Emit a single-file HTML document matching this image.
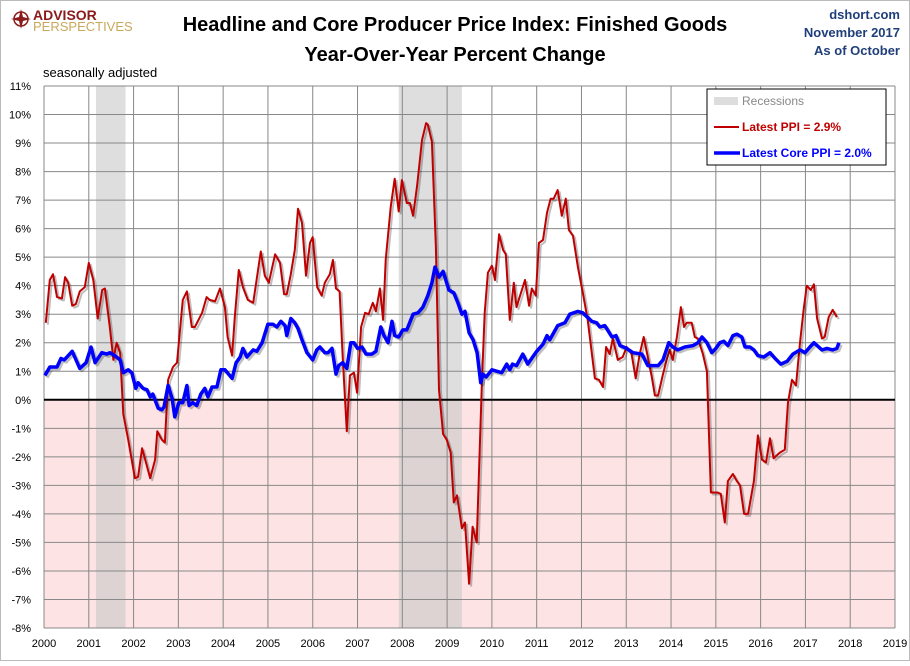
<!DOCTYPE html>
<html><head><meta charset="utf-8"><style>
body{margin:0;background:#fff;width:910px;height:661px;overflow:hidden;font-family:"Liberation Sans",sans-serif}
</style></head><body>
<svg id="chart" width="910" height="661" xmlns="http://www.w3.org/2000/svg" font-family="Liberation Sans, sans-serif">
<rect x="0.5" y="0.5" width="909" height="660" fill="#fff" stroke="#bbb"/>
<g>
<circle cx="21" cy="19" r="7" fill="none" stroke="#8b1a1a" stroke-width="1.5"/>
<path d="M21 9 L23 17 L31 19 L23 21 L21 29 L19 21 L11 19 L19 17 Z" fill="#8b1a1a"/>
<text x="33" y="20" font-size="14" font-weight="bold" fill="#8b1a1a">ADVISOR</text>
<text x="33" y="31" font-size="13" fill="#c9a85a">PERSPECTIVES</text>
</g>
<text x="455" y="31" text-anchor="middle" font-size="20" font-weight="bold" fill="#000">Headline and Core Producer Price Index: Finished Goods</text>
<text x="455" y="61" text-anchor="middle" font-size="20" font-weight="bold" fill="#000">Year-Over-Year Percent Change</text>
<text x="900" y="19" text-anchor="end" font-size="13" font-weight="bold" fill="#1f3f7a">dshort.com</text>
<text x="900" y="37" text-anchor="end" font-size="13" font-weight="bold" fill="#1f3f7a">November 2017</text>
<text x="900" y="55" text-anchor="end" font-size="13" font-weight="bold" fill="#1f3f7a">As of October</text>
<text x="43" y="77" font-size="13" fill="#000">seasonally adjusted</text>
<g id="plot"></g>
</svg>
<script>
const yearTicks=[2000,2001,2002,2003,2004,2005,2006,2007,2008,2009,2010,2011,2012,2013,2014,2015,2016,2017,2018,2019];
const pctTicks=[-8,-7,-6,-5,-4,-3,-2,-1,0,1,2,3,4,5,6,7,8,9,10,11];
const recessionStarts=[2001.16,2007.92];
const recessionEnds=[2001.82,2009.33];
const ppiDates=[2000.04,2000.13,2000.2,2000.29,2000.4,2000.47,2000.54,2000.63,2000.71,2000.8,2000.91,2001.0,2001.1,2001.2,2001.3,2001.36,2001.47,2001.55,2001.62,2001.7,2001.77,2001.88,2002.03,2002.1,2002.19,2002.37,2002.48,2002.53,2002.63,2002.7,2002.77,2002.88,2002.97,2003.1,2003.19,2003.3,2003.37,2003.53,2003.63,2003.7,2003.82,2003.93,2004.04,2004.1,2004.2,2004.26,2004.35,2004.44,2004.55,2004.67,2004.84,2004.93,2005.02,2005.16,2005.27,2005.36,2005.42,2005.51,2005.6,2005.67,2005.76,2005.85,2005.94,2006.0,2006.1,2006.2,2006.27,2006.38,2006.45,2006.52,2006.6,2006.67,2006.76,2006.83,2006.92,2006.99,2007.08,2007.17,2007.25,2007.34,2007.41,2007.5,2007.57,2007.63,2007.74,2007.83,2007.92,2007.99,2008.1,2008.17,2008.24,2008.33,2008.44,2008.53,2008.57,2008.66,2008.75,2008.82,2008.91,2008.99,2009.08,2009.15,2009.22,2009.33,2009.4,2009.49,2009.57,2009.66,2009.78,2009.84,2009.91,2010.0,2010.07,2010.16,2010.25,2010.31,2010.4,2010.49,2010.55,2010.74,2010.83,2010.89,2010.98,2011.05,2011.14,2011.23,2011.31,2011.38,2011.47,2011.56,2011.65,2011.72,2011.81,2011.92,2012.03,2012.14,2012.3,2012.39,2012.48,2012.55,2012.63,2012.7,2012.81,2012.92,2013.01,2013.12,2013.21,2013.3,2013.39,2013.48,2013.57,2013.64,2013.71,2013.82,2013.91,2013.97,2014.04,2014.13,2014.22,2014.29,2014.35,2014.46,2014.53,2014.6,2014.71,2014.8,2014.89,2015.04,2015.11,2015.2,2015.27,2015.38,2015.47,2015.54,2015.63,2015.72,2015.85,2015.94,2016.03,2016.12,2016.21,2016.29,2016.43,2016.54,2016.61,2016.7,2016.79,2016.88,2016.96,2017.03,2017.12,2017.19,2017.26,2017.37,2017.43,2017.52,2017.61,2017.7,2017.75];
const ppiValues=[2.7,4.2,4.4,3.6,3.55,4.3,4.1,3.3,3.35,3.8,3.95,4.8,4.2,2.85,3.85,3.9,2.55,1.4,2.0,1.65,-0.5,-1.4,-2.75,-2.7,-1.7,-2.75,-2.1,-1.1,-1.4,-1.5,0.7,1.15,1.3,3.5,3.8,2.55,2.55,3.05,3.6,3.5,3.45,3.9,3.25,2.2,1.55,2.9,4.55,3.95,3.5,3.4,5.2,4.35,4.1,5.1,4.8,3.7,3.7,4.4,5.25,6.7,6.2,4.35,5.5,5.7,3.95,3.65,4.1,4.4,4.9,3.9,3.8,1.5,-1.1,0.85,0.95,0.25,2.55,3.05,3.0,3.4,3.1,3.9,2.8,4.9,6.75,7.75,6.6,7.7,6.9,6.9,6.45,7.5,9.1,9.7,9.65,9.05,5.35,0.35,-1.2,-1.4,-1.85,-3.6,-3.35,-4.5,-4.3,-6.45,-4.45,-5.0,0.7,3.05,4.45,4.7,4.2,5.8,5.25,5.1,2.8,4.1,3.25,4.2,3.3,3.9,3.65,5.5,5.6,6.55,7.05,7.05,7.35,6.45,7.05,5.95,5.75,4.65,3.75,2.8,0.75,0.7,0.45,1.85,1.6,2.15,1.4,1.5,1.85,1.6,0.75,1.6,2.2,1.5,0.8,0.15,0.15,0.9,1.45,1.75,1.4,2.2,3.25,2.55,2.7,2.7,2.2,2.15,1.6,1.0,-3.25,-3.25,-3.3,-4.3,-2.85,-2.6,-2.85,-3.0,-4.0,-4.0,-2.85,-1.25,-2.1,-2.2,-1.35,-2.05,-1.85,-1.75,-0.1,0.7,0.5,2.0,3.15,4.0,3.85,4.05,2.85,2.15,2.2,2.9,3.15,2.9];
const coreDates=[2000.02,2000.13,2000.29,2000.38,2000.45,2000.63,2000.8,2000.94,2001.05,2001.14,2001.29,2001.4,2001.47,2001.58,2001.7,2001.77,2001.88,2001.96,2002.05,2002.1,2002.21,2002.3,2002.37,2002.43,2002.55,2002.63,2002.68,2002.77,2002.86,2002.92,2003.01,2003.1,2003.19,2003.24,2003.32,2003.41,2003.5,2003.59,2003.66,2003.75,2003.86,2003.95,2004.04,2004.2,2004.29,2004.38,2004.44,2004.53,2004.67,2004.75,2004.87,2005.0,2005.11,2005.2,2005.29,2005.38,2005.42,2005.51,2005.6,2005.67,2005.76,2005.87,2006.0,2006.09,2006.16,2006.27,2006.34,2006.43,2006.52,2006.58,2006.67,2006.76,2006.85,2006.92,2007.0,2007.1,2007.19,2007.32,2007.41,2007.52,2007.59,2007.68,2007.77,2007.83,2007.92,2008.01,2008.1,2008.24,2008.35,2008.46,2008.57,2008.66,2008.73,2008.82,2008.91,2009.04,2009.15,2009.24,2009.33,2009.4,2009.49,2009.58,2009.67,2009.75,2009.8,2009.87,2010.0,2010.22,2010.33,2010.4,2010.46,2010.55,2010.69,2010.8,2011.0,2011.14,2011.23,2011.29,2011.47,2011.63,2011.74,2011.92,2012.03,2012.23,2012.34,2012.41,2012.52,2012.68,2012.77,2012.86,2013.01,2013.15,2013.35,2013.48,2013.71,2013.82,2013.95,2014.04,2014.15,2014.31,2014.49,2014.6,2014.69,2014.8,2014.91,2015.0,2015.09,2015.18,2015.27,2015.38,2015.47,2015.58,2015.65,2015.76,2015.85,2015.94,2016.07,2016.21,2016.32,2016.45,2016.59,2016.72,2016.88,2016.99,2017.1,2017.19,2017.37,2017.48,2017.61,2017.7,2017.75];
const coreValues=[0.85,1.15,1.15,1.45,1.4,1.7,1.1,1.3,1.85,1.3,1.65,1.6,1.65,1.55,1.4,0.95,1.05,0.95,0.4,0.6,0.4,0.35,0.1,0.2,-0.3,-0.35,-0.25,0.5,0.05,-0.6,-0.1,-0.1,0.5,-0.2,-0.1,-0.2,0.2,0.4,0.1,0.45,0.45,1.05,1.05,0.75,1.3,1.5,1.8,1.5,1.75,1.7,2.0,2.65,2.65,2.55,2.75,2.6,2.25,2.85,2.7,2.5,2.1,1.65,1.4,1.75,1.85,1.65,1.65,1.8,0.9,1.2,1.3,1.1,2.0,2.0,1.8,1.85,1.6,1.6,1.7,2.55,2.25,2.0,2.75,2.25,2.2,2.45,2.45,3.0,3.05,3.25,3.65,4.1,4.65,4.3,4.5,3.85,3.75,3.4,3.0,3.1,2.35,2.1,1.65,0.6,0.9,0.8,1.05,0.95,1.25,1.05,1.25,1.2,1.6,1.25,1.7,1.95,2.25,2.1,2.6,2.7,3.0,3.1,3.05,2.75,2.7,2.55,2.6,2.2,2.25,1.9,1.8,1.65,1.6,1.2,1.2,1.4,2.0,1.85,1.75,1.85,1.9,2.0,2.2,2.0,1.65,1.8,2.0,2.05,1.9,2.25,2.3,2.2,1.85,1.85,1.75,1.55,1.5,1.65,1.45,1.25,1.35,1.6,1.75,1.65,1.85,2.0,1.75,1.8,1.75,1.8,2.0];

const NS='http://www.w3.org/2000/svg';
const L=44,R=895,T=86,B=628,Y0=2000,Y1=2019,V0=-8,V1=11;
function xs(t){return L+(t-Y0)/(Y1-Y0)*(R-L);}
function ys(v){return B-(v-V0)/(V1-V0)*(B-T);}
const plot=document.getElementById('plot');
function mk(tag,attrs,parent){const e=document.createElementNS(NS,tag);for(const k in attrs)e.setAttribute(k,attrs[k]);(parent||plot).appendChild(e);return e;}

let e=mk('rect',{x:L,y:ys(0),width:R-L,height:B-ys(0),fill:'#fde3e3'});


for(let i=0;i<recessionStarts.length;i++){
  const r=mk('rect',{x:xs(recessionStarts[i]),y:T,width:xs(recessionEnds[i])-xs(recessionStarts[i]),height:B-T,fill:'#c8c8c8','fill-opacity':0.6});
  
  
}
pctTicks.forEach(v=>{
  const g=mk('line',{x1:L,x2:R,y1:ys(v),y2:ys(v),stroke:'#888','stroke-width':1});
  
  
  const t=mk('text',{x:L-13,y:ys(v)+4,'text-anchor':'end','font-size':11,fill:'#000'});
  t.textContent=v+'%';
  
  
});
yearTicks.forEach(yr=>{
  const g=mk('line',{x1:xs(yr),x2:xs(yr),y1:T,y2:B,stroke:'#888','stroke-width':1});
  
  
  const t=mk('text',{x:xs(yr),y:B+19,'text-anchor':'middle','font-size':11,fill:'#000'});
  t.textContent=yr;
  
  
});
e=mk('line',{x1:L,x2:R,y1:ys(0),y2:ys(0),stroke:'#000','stroke-width':2});


function series(d,v,color,w,name){
  const pts=d.map((t,i)=>xs(t).toFixed(1)+','+ys(v[i]).toFixed(1)).join(' ');
  const sh=mk('polyline',{points:pts,fill:'none',stroke:'#000','stroke-opacity':0.25,'stroke-width':w,transform:'translate(2,2)','stroke-linejoin':'round'});
  
  
  const p=mk('polyline',{points:pts,fill:'none',stroke:color,'stroke-width':w,'stroke-linejoin':'round'});
  
  
}
series(ppiDates,ppiValues,'#c00000',2,'ppi-line');
series(coreDates,coreValues,'#0000ff',3.5,'core-ppi-line');
const lg=mk('g',{});


mk('rect',{x:707,y:89,width:179,height:76,fill:'#fff',stroke:'#000','stroke-width':1},lg);
e=mk('rect',{x:714,y:97,width:24,height:8,fill:'#ddd'},lg);


e=mk('text',{x:742,y:105,'font-size':12,fill:'#888'},lg);e.textContent='Recessions';


mk('line',{x1:714,x2:739,y1:127,y2:127,stroke:'#c00000','stroke-width':2},lg);
e=mk('text',{x:742,y:131,'font-size':12,'font-weight':'bold',fill:'#c00000'},lg);e.textContent='Latest PPI = 2.9%';


mk('line',{x1:714,x2:740,y1:153,y2:153,stroke:'#0000ff','stroke-width':3.5},lg);
e=mk('text',{x:742,y:157,'font-size':12,'font-weight':'bold',fill:'#0000ff'},lg);e.textContent='Latest Core PPI = 2.0%';


</script>
</body></html>
